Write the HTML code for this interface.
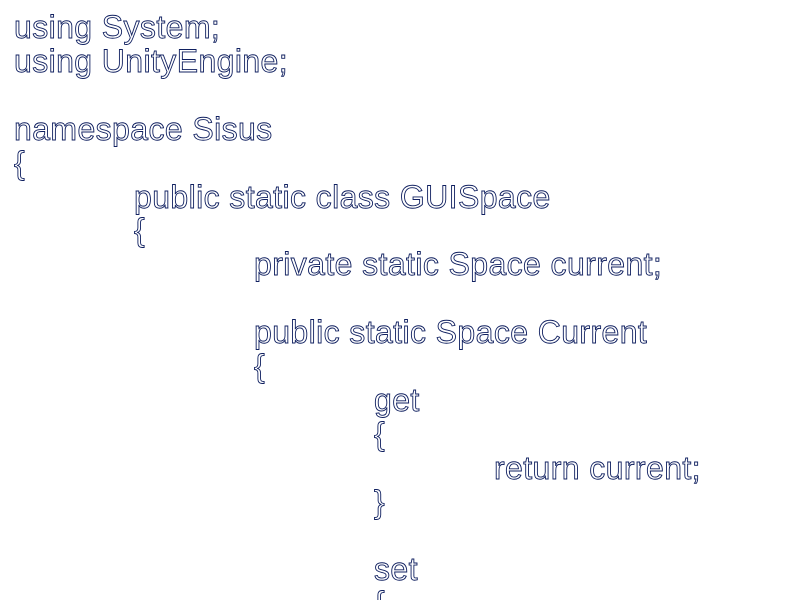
<!DOCTYPE html>
<html><head><meta charset="utf-8"><style>
html,body{margin:0;padding:0;background:#fff;width:800px;height:600px;overflow:hidden;position:relative}
div{position:absolute;font-family:"Liberation Sans",sans-serif;font-size:32px;line-height:33.9px;letter-spacing:0.4px;color:#fff;-webkit-text-stroke:0.9px #102060;white-space:pre}
</style></head><body>
<div style="left:14px;top:11px">using System;</div>
<div style="left:14px;top:44.9px">using UnityEngine;</div>
<div style="left:14px;top:112.7px">namespace Sisus</div>
<div style="left:14px;top:146.6px">{</div>
<div style="left:134px;top:180.5px">public static class GUISpace</div>
<div style="left:134px;top:214.4px">{</div>
<div style="left:254px;top:248.3px">private static Space current;</div>
<div style="left:254px;top:316.1px">public static Space Current</div>
<div style="left:254px;top:350px">{</div>
<div style="left:374px;top:383.9px">get</div>
<div style="left:374px;top:417.8px">{</div>
<div style="left:494px;top:451.7px">return current;</div>
<div style="left:374px;top:485.6px">}</div>
<div style="left:374px;top:553.4px">set</div>
<div style="left:374px;top:587.3px">{</div>
</body></html>
